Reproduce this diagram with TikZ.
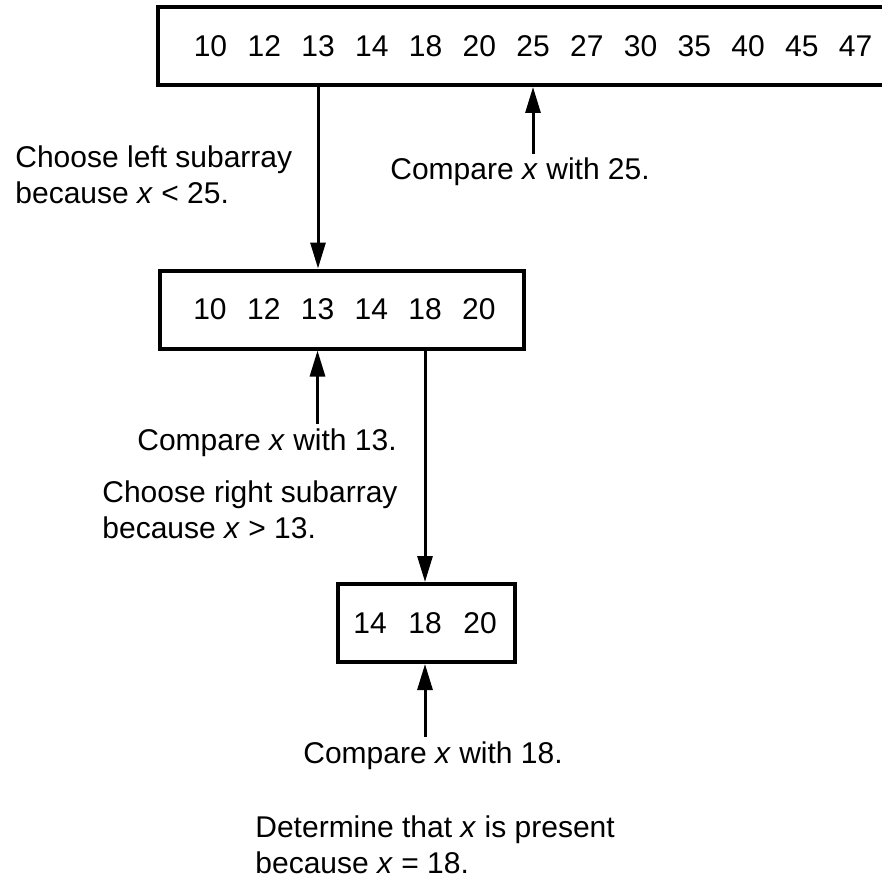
\documentclass[tikz,border=0pt]{standalone}
\usepackage{fontspec}
\setmainfont{Liberation Sans}
\usetikzlibrary{arrows.meta}

\begin{document}
\begin{tikzpicture}[
    x=0.5pt, y=-0.5pt,
    font=\fontsize{15}{18}\selectfont,
    arr/.style={-{Triangle[length=13pt, width=7.5pt]}, line width=1.5pt},
    arraybox/.style={draw, line width=2pt, minimum height=39pt, inner sep=0pt},
    num/.style={inner sep=0pt},
    lbl/.style={inner xsep=0pt, inner ysep=2pt, align=left},
  ]
  \useasboundingbox (0,0) rectangle (882,877);
  \clip (0,0) rectangle (882,877);

  \node[arraybox, minimum width=368.5pt] (top) at (526.5,46) {};
  \foreach \v [count=\i from 0] in {10,12,13,14,18,20,25,27,30,35,40,45,47}
    \node[num] (t\i) at ({210.5+53.75*\i},46) {\v};

  \node[arraybox, minimum width=182pt] (mid) at (342,309.5) {};
  \foreach \v [count=\i from 0] in {10,12,13,14,18,20}
    \node[num] (m\i) at ({210+53.75*\i},309.5) {\v};

  \node[arraybox, minimum width=88.5pt] (bot) at (426.5,623) {};
  \foreach \v [count=\i from 0] in {14,18,20}
    \node[num] (b\i) at ({370+55*\i},623) {\v};

  \node[lbl, anchor=base west] (cmp25) at (390,180) {Compare \textit{x} with 25.};
  \node[lbl, anchor=base west] (cmp13) at (137,450) {Compare \textit{x} with 13.};
  \node[lbl, anchor=base west] (cmp18) at (303,763) {Compare \textit{x} with 18.};
  \node[lbl, anchor=north west] (goleft) at (15,141.5) {Choose left subarray\\because \textit{x} < 25.};
  \node[lbl, anchor=north west] (goright) at (102,476.5) {Choose right subarray\\because \textit{x} > 13.};
  \node[lbl, anchor=north west] (found) at (255,811.5) {Determine that \textit{x} is present\\because \textit{x} = 18.};

  \draw[arr] (top.south -| t2) -- (mid.north -| t2);
  \draw[arr] (cmp25.north -| t6) -- (top.south -| t6);
  \draw[arr] (cmp13.north -| m2) -- (mid.south -| m2);
  \draw[arr] (mid.south -| m4) -- (bot.north -| m4);
  \draw[arr] (cmp18.north -| b1) -- (bot.south -| b1);
\end{tikzpicture}
\end{document}
